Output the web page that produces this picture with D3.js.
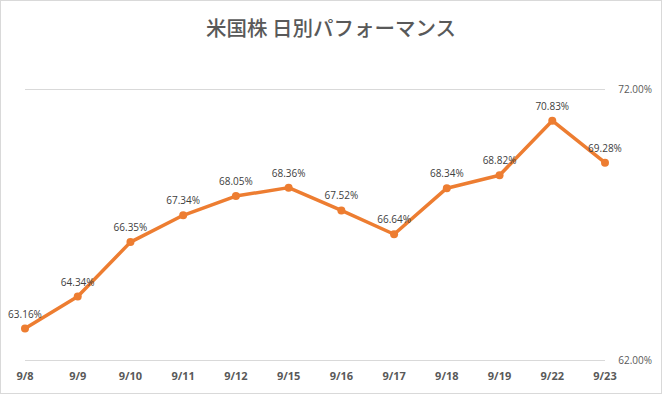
<!DOCTYPE html>
<meta charset="utf-8" />
<style>
  body { margin: 0; background: #fff; }
  svg { display: block; }
  .line { fill: none; stroke: #ED7D31; stroke-width: 3.5px; stroke-linejoin: round; }
</style>
<body>
<script src="https://d3js.org/d3.v7.min.js"></script>
<script>

// data
var dates = ["9/8", "9/9", "9/10", "9/11", "9/12", "9/15", "9/16", "9/17", "9/18", "9/19", "9/22", "9/23"];
var values = [63.16, 64.34, 66.35, 67.34, 68.05, 68.36, 67.52, 66.64, 68.34, 68.82, 70.83, 69.28];
var yTicks = [62, 72];

var width = 662, height = 394;

var svg = d3.select("body").append("svg")
    .attr("width", width)
    .attr("height", height);

// outer border
svg.append("rect")
    .attr("x", 0.5).attr("y", 0.5)
    .attr("width", width - 1).attr("height", height - 1)
    .attr("fill", "#fff")
    .attr("stroke", "#d9d9d9");

var x = d3.scalePoint().domain(dates).range([25, 605]);
var y = d3.scaleLinear().domain([62, 72]).range([360, 89]);

// gridlines + right axis labels
svg.selectAll(".grid")
    .data(yTicks)
    .enter().append("line")
    .attr("x1", 25).attr("x2", 605)
    .attr("y1", function(d) { return y(d) + 0.5; })
    .attr("y2", function(d) { return y(d) + 0.5; })
    .attr("stroke", "#d9d9d9")
    .attr("stroke-width", 1);

svg.selectAll(".ylab")
    .data(yTicks)
    .enter().append("text")
    .attr("x", 652)
    .attr("y", function(d) { return y(d) + 4; })
    .attr("text-anchor", "end")
    .style("font-family", "'Open Sans', 'Noto Sans', sans-serif")
    .style("font-size", "10px")
    .attr("fill", "#595959")
    .text(function(d) { return d.toFixed(2) + "%"; });

// x labels
svg.selectAll(".xlab")
    .data(dates)
    .enter().append("text")
    .attr("x", function(d) { return x(d); })
    .attr("y", 380)
    .attr("text-anchor", "middle")
    .style("font-family", "'Open Sans', 'Noto Sans', sans-serif")
    .style("font-size", "11px")
    .style("font-weight", 700)
    .attr("fill", "#595959")
    .text(function(d) { return d; });

// title
svg.append("text")
    .attr("x", width / 2)
    .attr("y", 36)
    .attr("text-anchor", "middle")
    .style("font-family", "'Noto Sans CJK JP', sans-serif")
    .style("font-size", "20.5px")
    .style("font-weight", 500)
    .attr("fill", "#595959")
    .text("米国株 日別パフォーマンス");

var data = dates.map(function(d, i) { return { date: d, value: values[i] }; });

var valueline = d3.line()
    .x(function(d) { return x(d.date); })
    .y(function(d) { return y(d.value); });

svg.append("path")
    .datum(data)
    .attr("class", "line")
    .attr("d", valueline);

svg.selectAll(".dot")
    .data(data)
    .enter().append("circle")
    .attr("cx", function(d) { return x(d.date); })
    .attr("cy", function(d) { return y(d.value); })
    .attr("r", 4)
    .attr("fill", "#ED7D31");

svg.selectAll(".vlab")
    .data(data)
    .enter().append("text")
    .attr("x", function(d) { return x(d.date); })
    .attr("y", function(d) { return y(d.value) - 11; })
    .attr("text-anchor", "middle")
    .style("font-family", "'Open Sans', 'Noto Sans', sans-serif")
    .style("font-size", "10px")
    .attr("fill", "#404040")
    .text(function(d) { return d.value.toFixed(2) + "%"; });

</script>
</body>
